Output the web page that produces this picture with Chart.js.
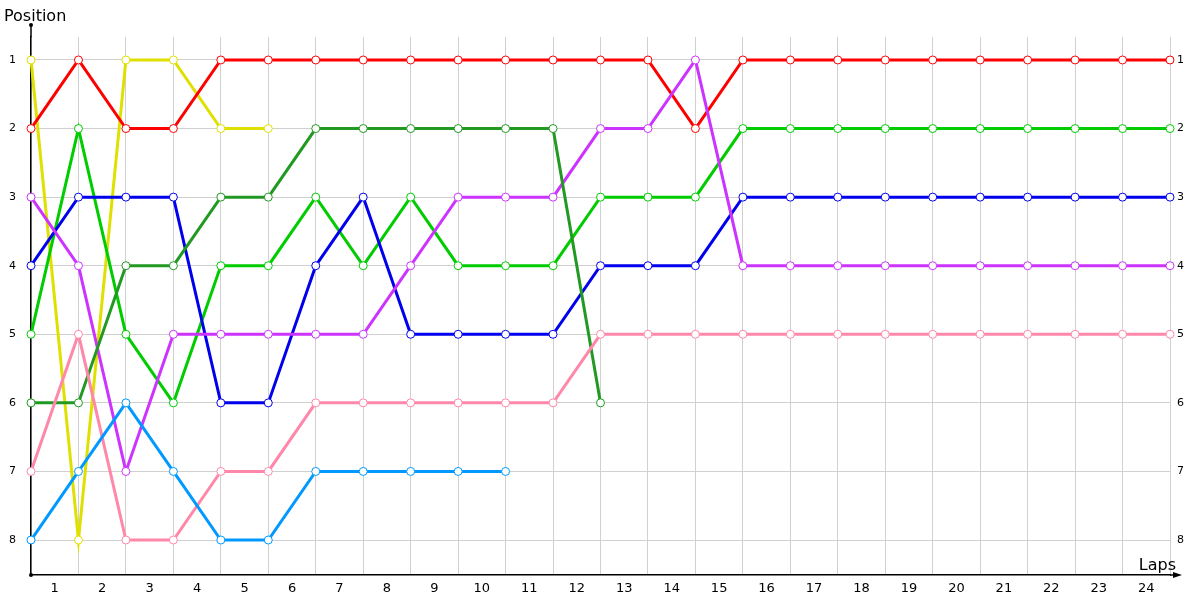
<!DOCTYPE html>
<html>
<head>
<meta charset="utf-8">
<script src="https://cdn.jsdelivr.net/npm/chart.js@4/dist/chart.umd.min.js"></script>
<style>
  html, body { margin: 0; padding: 0; background: #fff; }
  #wrap { position: relative; width: 1200px; height: 600px; }
</style>
</head>
<body>
<div id="wrap"><canvas id="race"></canvas></div>
<script>
// lap index (0 = start grid)
const laps = [0, 1, 2, 3, 4, 5, 6, 7, 8, 9, 10, 11, 12, 13, 14, 15, 16, 17, 18, 19, 20, 21, 22, 23, 24];
const positions = [1, 2, 3, 4, 5, 6, 7, 8];

// position of each driver per lap, null = retired
const red       = [2, 1, 2, 2, 1, 1, 1, 1, 1, 1, 1, 1, 1, 1, 2, 1, 1, 1, 1, 1, 1, 1, 1, 1, 1];
const yellow    = [1, 8, 1, 1, 2, 2, null, null, null, null, null, null, null, null, null, null, null, null, null, null, null, null, null, null, null];
const green     = [5, 2, 5, 6, 4, 4, 3, 4, 3, 4, 4, 4, 3, 3, 3, 2, 2, 2, 2, 2, 2, 2, 2, 2, 2];
const blue      = [4, 3, 3, 3, 6, 6, 4, 3, 5, 5, 5, 5, 4, 4, 4, 3, 3, 3, 3, 3, 3, 3, 3, 3, 3];
const darkGreen = [6, 6, 4, 4, 3, 3, 2, 2, 2, 2, 2, 2, 6, null, null, null, null, null, null, null, null, null, null, null, null];
const purple    = [3, 4, 7, 5, 5, 5, 5, 5, 4, 3, 3, 3, 2, 2, 1, 4, 4, 4, 4, 4, 4, 4, 4, 4, 4];
const pink      = [7, 5, 8, 8, 7, 7, 6, 6, 6, 6, 6, 6, 5, 5, 5, 5, 5, 5, 5, 5, 5, 5, 5, 5, 5];
const lightBlue = [8, 7, 6, 7, 8, 8, 7, 7, 7, 7, 7, null, null, null, null, null, null, null, null, null, null, null, null, null, null];

const series = [
  { data: lightBlue, color: '#0099ff' },
  { data: pink,      color: '#ff88aa' },
  { data: darkGreen, color: '#229922' },
  { data: purple,    color: '#cc33ff' },
  { data: blue,      color: '#0000ee' },
  { data: green,     color: '#00cc00' },
  { data: red,       color: '#ff0000' },
  { data: yellow,    color: '#e0e000' },
];

const datasets = series.map((s) => ({
  data: s.data.map((v, i) => ({ x: laps[i], y: v })),
  borderColor: s.color,
  borderWidth: 3,
  borderJoinStyle: 'miter',
  pointRadius: 4,
  pointBorderWidth: 1,
  pointBorderColor: s.color,
  pointBackgroundColor: '#ffffff',
  tension: 0,
  clip: false,
  spanGaps: false,
}));

const FONT = "'DejaVu Sans', Verdana, sans-serif";

const decorations = {
  id: 'decorations',
  beforeDatasetsDraw(chart) {
    // let the sharp turns keep their pointed joins
    chart.ctx.miterLimit = 30;
  },
  afterDraw(chart) {
    const { ctx, chartArea } = chart;
    const { left, right, top, bottom } = chartArea;
    ctx.save();
    ctx.strokeStyle = '#000';
    ctx.fillStyle = '#000';
    ctx.lineWidth = 1.5;
    // y axis extension up to the title
    ctx.beginPath();
    ctx.moveTo(left, top);
    ctx.lineTo(left, 25);
    ctx.stroke();
    ctx.beginPath();
    ctx.arc(left, 25, 2, 0, Math.PI * 2);
    ctx.fill();
    // x axis extension + arrow
    ctx.beginPath();
    ctx.moveTo(right, bottom);
    ctx.lineTo(right + 8, bottom);
    ctx.stroke();
    ctx.beginPath();
    ctx.moveTo(right + 12, bottom);
    ctx.lineTo(right + 3, bottom - 3);
    ctx.lineTo(right + 3, bottom + 3);
    ctx.closePath();
    ctx.fill();
    ctx.beginPath();
    ctx.arc(left, bottom, 2, 0, Math.PI * 2);
    ctx.fill();
    // axis titles
    ctx.font = '16px ' + FONT;
    ctx.textBaseline = 'alphabetic';
    ctx.textAlign = 'left';
    ctx.fillText('Position', 4, 21);
    ctx.textAlign = 'right';
    ctx.fillText('Laps', 1176, 570);
    ctx.restore();
  },
};

const xTicks = [];
for (const l of laps) {
  xTicks.push(l);
  if (l < laps[laps.length - 1]) xTicks.push(l + 0.5);
}

const Y_MIN = 0.665;
const Y_MAX = 8.51;

new Chart(document.getElementById('race'), {
  type: 'line',
  data: { datasets },
  options: {
    responsive: true,
    maintainAspectRatio: false,
    animation: false,
    events: [],
    layout: { padding: { top: 37, right: 0, bottom: 0, left: 0 } },
    plugins: { legend: { display: false }, tooltip: { enabled: false } },
    scales: {
      x: {
        type: 'linear',
        min: 0,
        max: 24,
        afterBuildTicks: (scale) => { scale.ticks = xTicks.map((v) => ({ value: v })); },
        afterFit: (scale) => { scale.height = 25; },
        grid: {
          color: (c) => (c.tick && c.tick.value % 1 === 0 ? '#d0d0d0' : 'rgba(0,0,0,0)'),
          drawTicks: false,
        },
        border: { color: '#000', width: 1.5 },
        ticks: {
          autoSkip: false,
          maxRotation: 0,
          padding: 6,
          color: '#000',
          font: { family: FONT, size: 13 },
          callback: (v) => (v % 1 !== 0 ? String(v + 0.5) : ''),
        },
      },
      y: {
        type: 'linear',
        position: 'left',
        reverse: true,
        min: Y_MIN,
        max: Y_MAX,
        afterBuildTicks: (scale) => { scale.ticks = positions.map((v) => ({ value: v })); },
        afterFit: (scale) => { scale.width = 31; },
        grid: { color: '#d0d0d0', drawTicks: false },
        border: { color: '#000', width: 1.5 },
        ticks: { padding: 15, color: '#000', font: { family: FONT, size: 11 } },
      },
      y2: {
        type: 'linear',
        position: 'right',
        reverse: true,
        min: Y_MIN,
        max: Y_MAX,
        afterBuildTicks: (scale) => { scale.ticks = positions.map((v) => ({ value: v })); },
        afterFit: (scale) => { scale.width = 30; },
        grid: { display: false, drawTicks: false },
        border: { display: false },
        ticks: { padding: 7, color: '#000', font: { family: FONT, size: 11 } },
      },
    },
  },
  plugins: [decorations],
});
</script>
</body>
</html>
